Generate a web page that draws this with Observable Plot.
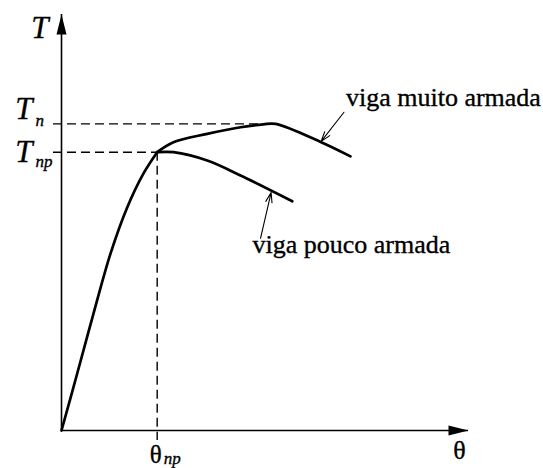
<!DOCTYPE html>
<html>
<head>
<meta charset="utf-8">
<script src="https://cdn.jsdelivr.net/npm/d3@7"></script>
<script src="https://cdn.jsdelivr.net/npm/@observablehq/plot@0.6"></script>
<style>
  html, body { margin: 0; padding: 0; background: #fff; }
</style>
</head>
<body>
<div id="chart"></div>
<script>
// Torque T versus twist θ for an over-reinforced and an under-reinforced beam
const thetaMax = 10;
const tMax = 10;

// rising (pre-cracking) branch shared by both beams
const riseTheta = [0, 0.386, 0.786, 1.204, 1.614, 2.015, 2.351];
const riseT     = [0, 1.37, 2.81, 4.25, 5.36, 6.18, 6.69];

// viga muito armada
const muitoTheta = [2.351, 2.75, 3.58, 4.40, 4.96, 5.26, 6.38, 7.10];
const muitoT     = [6.69, 6.93, 7.13, 7.29, 7.36, 7.37, 6.93, 6.59];

// viga pouco armada
const poucoTheta = [2.351, 2.75, 3.58, 4.40, 5.67];
const poucoT     = [6.69, 6.69, 6.49, 6.13, 5.51];

// reference levels
const Tn = 7.37, thetaN = 5.26;
const Tnp = 6.69, thetaNp = 2.351;

// leader arrows for the two curve labels
const leaderLabels = ["viga muito armada", "viga pouco armada"];
const leaderTail = [[6.94, 7.65], [4.89, 4.62]];
const leaderTip  = [[6.38, 6.95], [5.15, 5.72]];

const toRows = (xs, ys) => xs.map((x, i) => ({x, y: ys[i]}));
const rise = toRows(riseTheta, riseT);
const muito = toRows(muitoTheta, muitoT);
const pouco = toRows(poucoTheta, poucoT);
const leaders = leaderLabels.map((label, i) => ({
  label, x1: leaderTail[i][0], y1: leaderTail[i][1], x2: leaderTip[i][0], y2: leaderTip[i][1]
}));

// solid, elongated arrowhead with its tip at the origin, pointing up
const arrowHead = {
  draw(ctx) {
    ctx.moveTo(0, 0);
    ctx.lineTo(-5, 20);
    ctx.lineTo(5, 20);
    ctx.closePath();
  }
};

const serif = "Liberation Serif";
const dash = "9,5";
// shared look of all labels: black serif with a hairline outline for weight
const label = {fill: "#000", stroke: "#000", strokeWidth: 0.35, fontFamily: serif, lineAnchor: "bottom"};

const chart = Plot.plot({
  width: 543,
  height: 468,
  marginLeft: 61,
  marginRight: 75,
  marginTop: 14,
  marginBottom: 38,
  x: {domain: [0, thetaMax], axis: null},
  y: {domain: [0, tMax], axis: null},
  style: {background: "#fff", fontFamily: serif, color: "#000", overflow: "visible"},
  marks: [
    // axes
    Plot.ruleX([0], {y1: 0, y2: tMax, stroke: "#000", strokeWidth: 1.6}),
    Plot.ruleY([0], {x1: 0, x2: thetaMax, stroke: "#000", strokeWidth: 1.6}),
    Plot.dot([{x: 0, y: tMax}], {x: "x", y: "y", symbol: arrowHead, fill: "#000", stroke: null, rotate: 0}),
    Plot.dot([{x: thetaMax, y: 0}], {x: "x", y: "y", symbol: arrowHead, fill: "#000", stroke: null, rotate: 90}),

    // dashed guides to T_n, T_np and θ_np
    Plot.ruleY([Tn], {x1: 0, x2: thetaN, insetLeft: -8, stroke: "#000", strokeWidth: 1.4, strokeDasharray: dash}),
    Plot.ruleY([Tnp], {x1: 0, x2: thetaNp, insetLeft: -8, stroke: "#000", strokeWidth: 1.4, strokeDasharray: dash}),
    Plot.ruleX([thetaNp], {y1: Tnp, y2: 0, insetBottom: -10, stroke: "#000", strokeWidth: 1.4, strokeDasharray: dash}),

    // curves
    Plot.line(rise, {x: "x", y: "y", curve: "catmull-rom", stroke: "#000", strokeWidth: 2.7}),
    Plot.line(muito, {x: "x", y: "y", curve: "catmull-rom", stroke: "#000", strokeWidth: 2.7}),
    Plot.line(pouco, {x: "x", y: "y", curve: "catmull-rom", stroke: "#000", strokeWidth: 2.7}),

    // leader arrows and their labels
    Plot.arrow(leaders, {x1: "x1", y1: "y1", x2: "x2", y2: "y2", stroke: "#000", strokeWidth: 1.1, headLength: 14, headAngle: 36}),
    Plot.text(leaders.slice(0, 1), {...label, x: "x1", y: "y1", text: "label", textAnchor: "start", dx: 2, dy: -6, fontSize: 26}),
    Plot.text(leaders.slice(1), {...label, x: "x1", y: "y1", text: "label", textAnchor: "start", dx: -8, dy: 15, fontSize: 26}),

    // axis labels
    Plot.text([tMax], {...label, x: 0, y: d => d, text: ["T"], textAnchor: "end", dx: -13, dy: 23, fontSize: 31, fontStyle: "italic"}),
    Plot.text([Tn], {...label, x: 0, y: d => d, text: ["T"], textAnchor: "end", dx: -29, dy: -5, fontSize: 31, fontStyle: "italic"}),
    Plot.text([Tn], {...label, x: 0, y: d => d, text: ["n"], textAnchor: "start", dx: -26, dy: 2, fontSize: 17, fontStyle: "italic"}),
    Plot.text([Tnp], {...label, x: 0, y: d => d, text: ["T"], textAnchor: "end", dx: -29, dy: 10, fontSize: 31, fontStyle: "italic"}),
    Plot.text([Tnp], {...label, x: 0, y: d => d, text: ["np"], textAnchor: "start", dx: -26, dy: 15, fontSize: 17, fontStyle: "italic"}),
    Plot.text([thetaMax], {...label, x: d => d, y: 0, text: ["θ"], textAnchor: "middle", dx: -9, dy: 28, fontSize: 26}),
    Plot.text([thetaNp], {...label, x: d => d, y: 0, text: ["θ"], textAnchor: "middle", dx: -1.5, dy: 32, fontSize: 25}),
    Plot.text([thetaNp], {...label, x: d => d, y: 0, text: ["np"], textAnchor: "start", dx: 6.5, dy: 33, fontSize: 17, fontStyle: "italic"})
  ]
});

document.getElementById("chart").appendChild(chart);
</script>
</body>
</html>
